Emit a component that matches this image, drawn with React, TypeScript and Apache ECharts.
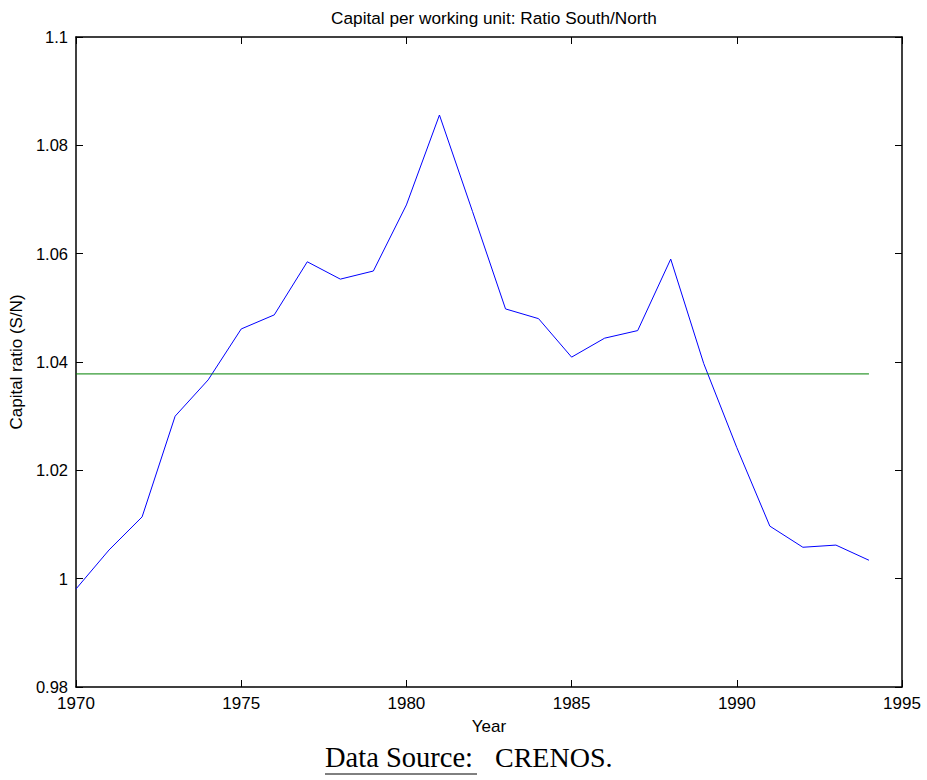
import React, { useEffect, useRef } from "react";
import * as echarts from "echarts";

const years = [1970, 1971, 1972, 1973, 1974, 1975, 1976, 1977, 1978, 1979, 1980, 1981, 1982, 1983, 1984, 1985, 1986, 1987, 1988, 1989, 1990, 1991, 1992, 1993, 1994];
const ratio = [0.9981, 1.0053, 1.0114, 1.03, 1.0367, 1.0461, 1.0487, 1.0585, 1.0553, 1.0568, 1.069, 1.0856, 1.0678, 1.0498, 1.048, 1.0409, 1.0444, 1.0458, 1.059, 1.0397, 1.0242, 1.0097, 1.0058, 1.0062, 1.0034];
const meanLevel = 1.0378;
const meanSpan = [1970, 1994];
const xTicks = { min: 1970, max: 1995, interval: 5 };
const yTicks = { min: 0.98, max: 1.1, interval: 0.02 };

const FONT = "'Liberation Sans', Arial, Helvetica, sans-serif";
const SERIF = "'Liberation Serif', 'Times New Roman', serif";

export default function App() {
  const ref = useRef<HTMLDivElement>(null);
  useEffect(() => {
    if (!ref.current) return;
    const chart = echarts.init(ref.current, undefined, { renderer: "svg" });
    const fmtY = (v: number) => String(parseFloat(v.toFixed(2)));
    const axisLine = { show: true, lineStyle: { color: "#000", width: 1.5 } };
    const tick = { show: true, inside: true, length: 7, lineStyle: { color: "#000", width: 1 } };
    chart.setOption({
      animation: false,
      backgroundColor: "#fff",
      title: {
        text: "Capital per working unit: Ratio South/North",
        left: 489,
        textAlign: "center",
        top: 4,
        textStyle: { fontFamily: FONT, fontSize: 17.2, fontWeight: "normal", color: "#000" },
      },
      grid: { left: 76, right: 25, top: 37, bottom: 93 },
      xAxis: [
        {
          type: "value",
          position: "bottom",
          min: xTicks.min,
          max: xTicks.max,
          interval: xTicks.interval,
          name: "Year",
          nameLocation: "middle",
          nameGap: 31,
          nameTextStyle: { fontFamily: FONT, fontSize: 17, color: "#000" },
          axisLine,
          axisTick: tick,
          splitLine: { show: false },
          axisLabel: { fontFamily: FONT, fontSize: 17, color: "#000", margin: 8, formatter: (v: number) => String(v) },
        },
        {
          type: "value",
          position: "top",
          min: xTicks.min,
          max: xTicks.max,
          interval: xTicks.interval,
          axisLine,
          axisTick: tick,
          splitLine: { show: false },
          axisLabel: { show: false },
        },
      ],
      yAxis: [
        {
          type: "value",
          position: "left",
          min: yTicks.min,
          max: yTicks.max,
          interval: yTicks.interval,
          name: "Capital ratio (S/N)",
          nameLocation: "middle",
          nameGap: 47,
          nameRotate: 90,
          nameTextStyle: { fontFamily: FONT, fontSize: 17, color: "#000" },
          axisLine,
          axisTick: tick,
          splitLine: { show: false },
          axisLabel: { fontFamily: FONT, fontSize: 16.5, color: "#000", margin: 8, formatter: fmtY },
        },
        {
          type: "value",
          position: "right",
          min: yTicks.min,
          max: yTicks.max,
          interval: yTicks.interval,
          axisLine,
          axisTick: tick,
          splitLine: { show: false },
          axisLabel: { show: false },
        },
      ],
      series: [
        {
          type: "line",
          data: years.map((y, i) => [y, ratio[i]]),
          showSymbol: false,
          lineStyle: { color: "#0000ff", width: 1 },
          itemStyle: { color: "#0000ff" },
        },
        {
          type: "line",
          data: meanSpan.map((y) => [y, meanLevel]),
          showSymbol: false,
          lineStyle: { color: "#008000", width: 1 },
          itemStyle: { color: "#008000" },
        },
      ],
      graphic: [
        {
          type: "text",
          left: 325,
          top: 743,
          style: { text: "Data Source:", font: `28.5px ${SERIF}`, fill: "#000" },
        },
        {
          type: "text",
          left: 495,
          top: 743,
          style: { text: "CRENOS.", font: `28px ${SERIF}`, fill: "#000" },
        },
        {
          type: "line",
          shape: { x1: 325, y1: 774, x2: 477, y2: 774 },
          style: { stroke: "#000", lineWidth: 1 },
        },
      ],
    });
    return () => chart.dispose();
  }, []);
  return <div ref={ref} style={{ position: "absolute", left: 0, top: 0, width: 927, height: 780 }} />;
}
